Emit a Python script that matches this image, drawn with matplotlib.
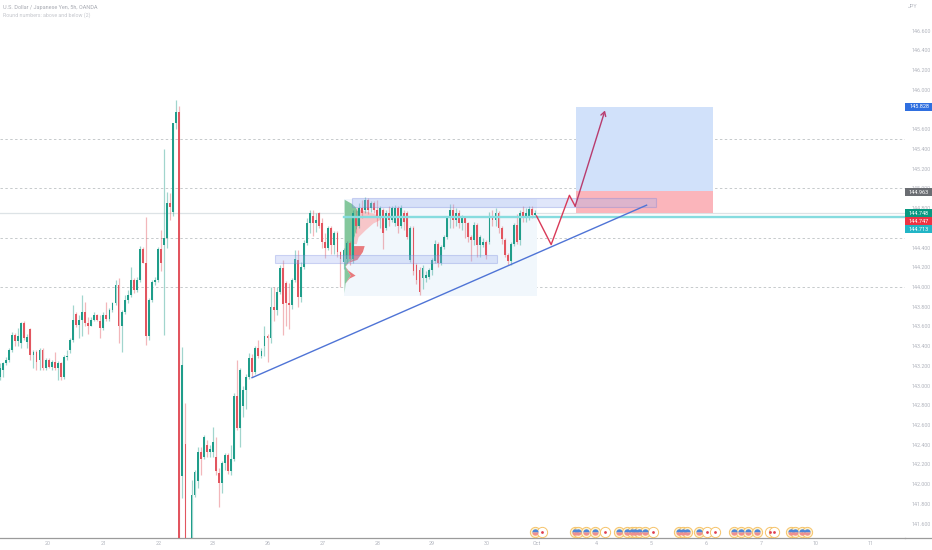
import matplotlib
matplotlib.use("Agg")
import matplotlib.pyplot as plt
import numpy as np
from matplotlib.patches import Rectangle
from matplotlib.transforms import blended_transform_factory

# candles, one entry per bar
opens = [143.09,143.16,143.23,143.26,143.36,143.51,143.45,143.43,143.63,143.44,
         143.57,143.31,143.34,143.26,143.36,143.18,143.26,143.19,143.24,143.18,
         143.23,143.09,143.29,143.36,143.46,143.73,143.61,143.67,143.75,143.63,
         143.60,143.67,143.72,143.65,143.58,143.72,143.68,143.77,143.84,144.02,
         143.60,143.75,143.87,143.92,144.07,143.97,144.07,144.39,144.24,143.50,
         143.87,144.05,144.07,144.39,144.43,144.50,144.85,144.76,145.66,145.77,
         142.08,142.41,140.80,141.00,141.89,142.03,142.33,142.28,142.40,142.33,
         142.33,142.28,142.11,142.01,142.21,142.30,142.13,142.26,142.89,142.57,
         142.79,142.96,143.09,143.28,143.14,143.38,143.30,143.40,143.50,143.48,
         143.80,143.77,143.95,144.19,144.04,143.84,143.82,144.07,144.27,143.90,
         144.20,144.45,144.65,144.72,144.65,144.75,144.65,144.46,144.40,144.60,
         144.43,144.55,144.35,144.25,144.28,144.45,144.28,144.72,144.62,144.80,
         144.78,144.88,144.80,144.85,144.78,144.72,144.78,144.60,144.75,144.68,
         144.65,144.80,144.62,144.75,144.75,144.27,144.60,144.22,144.17,144.09,
         144.09,144.10,144.17,144.26,144.44,144.24,144.41,144.51,144.71,144.78,
         144.68,144.75,144.65,144.70,144.65,144.51,144.48,144.63,144.43,144.43,
         144.46,144.46,144.71,144.68,144.75,144.60,144.48,144.32,144.26,144.44,
         144.63,144.48,144.76,144.70,144.71,144.79,144.73]
closes = [143.18,143.23,143.26,143.36,143.51,143.45,143.50,143.63,143.48,143.49,
          143.31,143.34,143.24,143.36,143.18,143.26,143.19,143.24,143.18,143.23,
          143.09,143.29,143.30,143.46,143.67,143.61,143.67,143.75,143.63,143.60,
          143.67,143.72,143.67,143.58,143.72,143.68,143.77,143.84,144.02,143.60,
          143.75,143.87,143.92,144.07,143.97,144.07,144.39,144.24,143.50,143.87,
          144.05,144.07,144.39,144.24,144.50,144.85,144.81,145.66,145.77,140.90,
          143.21,140.90,140.70,141.89,142.12,142.33,142.26,142.48,142.33,142.36,
          142.43,142.13,142.01,142.21,142.30,142.13,142.26,142.89,142.57,143.16,
          142.96,143.09,143.28,143.14,143.38,143.30,143.35,143.50,143.48,143.80,
          143.77,143.95,144.19,143.83,143.84,143.82,144.07,144.28,143.90,144.20,
          144.45,144.65,144.75,144.65,144.68,144.62,144.46,144.40,144.60,144.43,
          144.55,144.35,144.28,144.38,144.45,144.28,144.75,144.62,144.80,144.75,
          144.88,144.78,144.85,144.78,144.72,144.80,144.55,144.75,144.68,144.80,
          144.80,144.62,144.80,144.66,144.51,144.60,144.16,144.07,143.95,144.19,
          144.12,144.17,144.27,144.44,144.24,144.41,144.51,144.70,144.78,144.68,
          144.75,144.65,144.70,144.65,144.51,144.48,144.63,144.43,144.51,144.46,
          144.32,144.71,144.68,144.75,144.60,144.49,144.32,144.26,144.44,144.63,
          144.46,144.75,144.70,144.75,144.79,144.73,144.75]
highs = [143.23,143.24,143.29,143.38,143.54,143.53,143.58,143.64,143.65,143.52,
         143.58,143.36,143.36,143.38,143.38,143.28,143.28,143.26,143.34,143.25,
         143.24,143.31,143.36,143.48,143.82,143.75,143.72,143.92,143.85,143.70,
         143.70,143.75,143.73,143.72,143.75,143.85,143.79,143.85,144.07,144.09,
         143.77,143.92,143.97,144.20,144.09,144.10,144.42,144.41,144.71,143.89,
         144.07,144.10,144.41,144.58,145.40,144.96,144.95,145.66,145.90,145.84,
         143.39,142.82,140.85,142.04,142.14,142.38,142.38,142.50,142.45,142.40,
         142.58,142.48,142.16,142.24,142.32,142.32,142.40,142.92,143.26,143.18,
         143.00,143.12,143.33,143.32,143.40,143.46,143.38,143.60,143.52,144.00,
         144.00,144.00,144.22,144.27,144.06,144.04,144.09,144.38,144.38,144.25,
         144.48,144.70,144.78,144.78,144.75,144.76,144.70,144.55,144.62,144.62,
         144.57,144.57,144.37,144.40,144.47,144.47,144.78,144.78,144.85,144.88,
         144.91,144.90,144.87,144.87,144.88,144.82,144.80,144.78,144.82,144.82,
         144.83,144.82,144.83,144.78,144.77,144.62,144.62,144.24,144.20,144.22,
         144.16,144.19,144.29,144.48,144.46,144.43,144.53,144.72,144.84,144.84,
         144.80,144.78,144.73,144.70,144.66,144.53,144.66,144.65,144.53,144.50,
         144.48,144.76,144.78,144.80,144.77,144.62,144.50,144.34,144.46,144.65,
         144.74,144.78,144.82,144.80,144.82,144.82,144.78]
lows = [143.06,143.09,143.21,143.24,143.34,143.40,143.40,143.38,143.46,143.38,
        143.26,143.18,143.16,143.16,143.16,143.16,143.18,143.16,143.16,143.06,
        143.06,143.07,143.26,143.33,143.44,143.59,143.48,143.50,143.60,143.52,
        143.60,143.65,143.65,143.48,143.56,143.66,143.66,143.75,143.82,143.43,
        143.34,143.73,143.84,143.90,143.94,143.95,144.05,144.24,143.41,143.46,
        143.85,144.02,144.05,144.16,143.51,144.40,144.68,144.72,145.60,140.50,
        141.86,140.50,140.60,140.90,141.87,141.96,142.09,142.26,142.28,142.28,
        142.28,142.09,141.77,141.91,142.14,142.10,142.09,142.24,142.55,142.38,
        142.68,142.76,143.07,143.09,143.12,143.28,143.28,143.30,143.24,143.43,
        143.66,143.72,143.93,143.51,143.60,143.57,143.78,144.05,143.80,143.85,
        144.18,144.43,144.55,144.52,144.56,144.60,144.40,144.29,144.38,144.33,
        144.33,144.30,144.00,144.18,144.24,144.22,144.24,144.55,144.60,144.70,
        144.75,144.74,144.76,144.75,144.62,144.60,144.39,144.58,144.62,144.66,
        144.62,144.55,144.60,144.58,144.49,144.25,144.12,144.03,143.92,143.98,
        144.05,144.08,144.12,144.24,144.20,144.22,144.39,144.49,144.60,144.60,
        144.62,144.60,144.58,144.50,144.46,144.26,144.43,144.30,144.30,144.41,
        144.28,144.44,144.62,144.62,144.55,144.44,144.30,144.22,144.22,144.42,
        144.44,144.43,144.66,144.66,144.68,144.70,144.72]

price_ticks = [141.6,141.8,142.0,142.2,142.4,142.6,142.8,143.0,143.2,143.4,143.6,143.8,144.0,
               144.2,144.4,144.8,145.0,145.2,145.4,145.6,146.0,146.2,146.4,146.6]
date_ticks = [15.8,34.2,52.3,70.1,88.2,106.3,124.3,142.1,160.2,176.7,196.2,214.2,232.2,250.3,268.4,286.4]
date_labels = ["20","21","22","23","26","27","28","29","30","Oct","4","5","6","7","10","11"]
round_levels = [144.0,144.5,145.0,145.5]

# volume profile (levels and widths of the two sides)
profile_prices = [144.89,144.85,144.815,144.78,144.75,144.71,144.68,144.65,144.58,144.51,144.44,
                  144.42,144.36,144.28,144.25,144.21,144.17,144.12,144.09,144.04,143.94]
profile_buy = [0,2.3,3.6,4.3,4.9,4.9,4.9,4.6,3.9,3.3,3.0,3.0,3.0,2.6,1.0,0.3,1.0,2.0,1.3,0.3,0]
profile_sell = [0,0,0,1.3,4.6,7.2,6.6,4.9,3.0,1.3,1.0,3.6,3.0,1.6,0.3,0,0.3,1.6,0.3,0,0]

# drawings
trend_x = [82.9,212.7]
trend_y = [143.08,144.83]
path_x = [176.5,181.3,187.3,189.2]
path_y = [144.72,144.43,144.93,144.82]
arrow_start = (189.2,144.82)
arrow_end = (199.0,145.79)
us_events = [176,189.1,190.1,192.8,195.7,203.6,206.3,207.9,208.9,210.2,212.2,223.4,224.7,226,
             229.9,241.4,243.8,246,249,260.2,261.5,263.8,265.5]
jp_events = [178.3,199,214.8,232.6,235.2,253.3,254.6]

bar_px = 3.04
GREEN = "#1f9d8a"
RED = "#e2555f"
LABEL = "#b2b5be"

plt.rcParams["font.family"] = ["Roboto", "DejaVu Sans"]
fig = plt.figure(figsize=(9.32, 5.5), dpi=100)
ax = fig.add_axes([0, 12.5 / 550, 905 / 932, 537.5 / 550])
ax.set_xlim(0, 905 / bar_px)
ax.set_ylim(141.459, 146.911)

for lvl in round_levels:
    ax.axhline(lvl, color="#c6cacc", lw=0.7, ls=(0, (2.5, 2.5)), zorder=1)
ax.axhline(144.748, color="#dde3e6", lw=0.9, zorder=1)

# profile block
px_start = 113.2
last_bar = 176.5
ax.add_patch(Rectangle((px_start, 143.91), last_bar - px_start, 144.89 - 143.91,
                       facecolor="#f1f7fc", edgecolor="none", zorder=1))
prof_y = np.array(profile_prices)
buy = np.array(profile_buy)
sell = np.array(profile_sell)
upper = prof_y >= 144.43
ax.fill_betweenx(prof_y, px_start, px_start + buy, color="#84c79c", lw=0, zorder=2)
ax.fill_betweenx(prof_y, px_start + buy, px_start + buy + sell, where=upper,
                 color="#f7c6c9", lw=0, zorder=2)
ax.fill_betweenx(prof_y, px_start + buy, px_start + buy + sell, where=~upper,
                 color="#e87a7d", lw=0, zorder=2)

# long position box
ax.add_patch(Rectangle((189.5, 144.97), 45, 145.828 - 144.97, facecolor="#d1e1fa", edgecolor="none", zorder=2))
ax.add_patch(Rectangle((189.5, 144.75), 45, 144.97 - 144.75, facecolor="#fbb5bb", edgecolor="none", zorder=2))

# candles
x = np.arange(len(opens))
o = np.array(opens)
c = np.array(closes)
cols = [GREEN if b >= a else RED for a, b in zip(o, c)]
ax.vlines(x, lows, highs, colors=cols, lw=0.9, alpha=0.42, zorder=3)
ax.bar(x, np.abs(c - o), bottom=np.minimum(o, c), width=0.6, color=cols, lw=0, zorder=4)

ax.axhline(144.713, xmin=px_start / (905 / bar_px), color="#86dcdf", lw=1.7, zorder=5)

# zones
ax.add_patch(Rectangle((115.8, 144.81), 100, 144.905 - 144.81, facecolor="#9fb2f2", alpha=0.32,
                       edgecolor="#6f80dc", lw=0.8, zorder=6))
ax.add_patch(Rectangle((90.5, 144.24), 73, 144.32 - 144.24, facecolor="#9fb2f2", alpha=0.3,
                       edgecolor="#6f80dc", lw=0.8, zorder=6))

ax.plot(trend_x, trend_y, color="#4f74d6", lw=1.0, zorder=7)
ax.plot(path_x, path_y, color="#d93a58", lw=1.0, zorder=7)
ax.annotate("", xy=arrow_end, xytext=arrow_start, zorder=7,
            arrowprops=dict(arrowstyle="->,head_length=0.3,head_width=0.18", color="#b83c6e", lw=1.0,
                            shrinkA=0, shrinkB=0))

# economic events along the bottom
ev = blended_transform_factory(ax.transData, ax.transAxes)
ev_y = 1 - 532 / 537.5
for pos in us_events:
    ax.plot(pos, ev_y, "o", ms=7.4, mfc="#fff3cf", mec="#f5c36a", mew=0.7, transform=ev, zorder=8, clip_on=False)
    ax.plot(pos, ev_y, "o", ms=4.6, fillstyle="top", mfc="#4d86d8", markerfacecoloralt="#ef8f8f",
            mec="none", transform=ev, zorder=9, clip_on=False)
for pos in jp_events:
    ax.plot(pos, ev_y, "o", ms=7.4, mfc="#ffffff", mec="#f5c36a", mew=0.7, transform=ev, zorder=8, clip_on=False)
    ax.plot(pos, ev_y, "o", ms=2.0, color="#e0404f", mec="none", transform=ev, zorder=9, clip_on=False)

# axes
for name in ["top", "left", "right"]:
    ax.spines[name].set_visible(False)
ax.spines["bottom"].set_color("#9b9b9b")
ax.spines["bottom"].set_linewidth(0.9)
ax.plot([1, 1.03], [0, 0], color="#9b9b9b", lw=0.9, transform=ax.transAxes, clip_on=False)
ax.yaxis.tick_right()
ax.set_yticks(price_ticks, [f"{p:.3f}" for p in price_ticks])
ax.set_xticks(date_ticks, date_labels)
ax.tick_params(axis="y", length=0, pad=4.5, labelsize=3.9, labelcolor=LABEL)
ax.tick_params(axis="x", length=0, pad=2.4, labelsize=3.9, labelcolor=LABEL)

fig.text(3 / 932, 1 - 7 / 550, "U.S. Dollar / Japanese Yen, 5h, OANDA", fontsize=4.0, color="#a8abb3", va="center")
fig.text(3 / 932, 1 - 15 / 550, "Round numbers: above and below (2)", fontsize=3.8, color="#c4c6cc", va="center")
ax.text(1 + 8 / 905, 146.85, "JPY", fontsize=3.9, color=LABEL, ha="center", va="center",
        transform=ax.get_yaxis_transform(), clip_on=False)

# price tags on the scale
tag_labels = ["145.828", "144.963", "144.748", "144.747", "144.713"]
tag_prices = [145.828, 144.963, 144.748, 144.668, 144.587]
tag_colors = ["#2f6fe0", "#6a6d72", "#089981", "#ee3344", "#22b5c6"]
yt = ax.get_yaxis_transform()
for lab, p, col in zip(tag_labels, tag_prices, tag_colors):
    ax.add_patch(Rectangle((1, p - 0.04), 27 / 905, 0.08, facecolor=col, edgecolor="none",
                           transform=yt, clip_on=False, zorder=10))
    ax.text(1 + 14 / 905, p, lab, color="white", fontsize=4.0, ha="center", va="center",
            transform=yt, clip_on=False, zorder=11)

fig.savefig("out.png", dpi=100)
